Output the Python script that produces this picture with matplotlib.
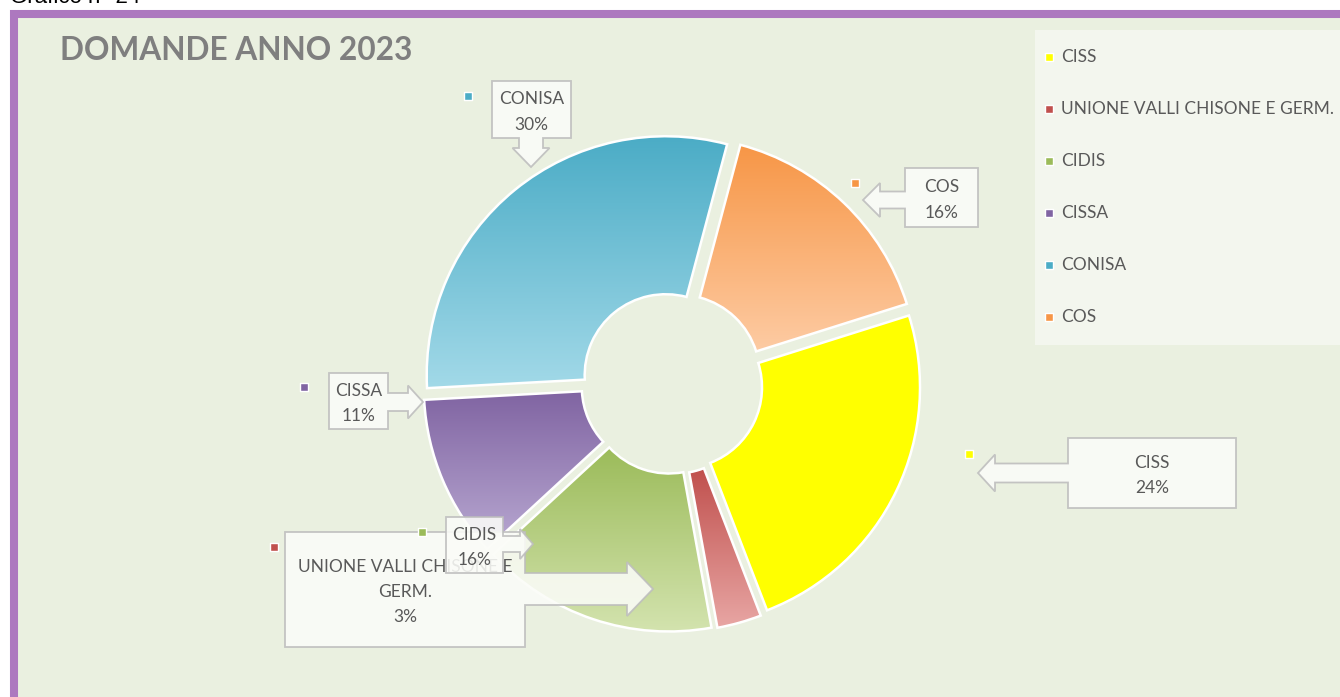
import textwrap

import numpy as np
import matplotlib
matplotlib.use("Agg")
import matplotlib.pyplot as plt
from matplotlib.patches import Polygon, Rectangle
from matplotlib.colors import LinearSegmentedColormap

# dati del grafico
categories = ["CISS", "UNIONE VALLI CHISONE E GERM.", "CIDIS", "CISSA", "CONISA", "COS"]
values = [24, 3, 16, 11, 30, 16]
title = "DOMANDE ANNO 2023"
caption = "Grafico n° 24"

# colori (alto -> basso del gradiente)
top_colors = ["#FFFF00", "#C0504D", "#9BBB59", "#8064A2", "#4BACC6", "#F79646"]
bottom_colors = ["#FFFF00", "#E8A6A4", "#D3E3AE", "#B9A9D2", "#A2D9E8", "#FDCBA3"]

W, H = 1340, 697
BG = "#EAF0E0"
TXT = "#595959"
FONT = ["Lato", "DejaVu Sans"]


def Y(y):
    return H - y


# posizione dei richiami: box (x0, y0, x1, y1), lato freccia, centro, mezza asta,
# mezza punta, inizio punta, punta, quadratino
callouts = {
    "CISS": ((1068, 438, 1236, 508), "left", 473, 9.5, 18.5, 995, 978, (969, 454)),
    "UNIONE VALLI CHISONE E GERM.": ((285, 532, 525, 647), "right", 589, 16, 27, 627, 653, (274, 547)),
    "CIDIS": ((446, 517, 503, 573), "right", 544, 8, 15, 520, 533, (422, 532)),
    "CISSA": ((329, 373, 388, 429), "right", 402, 9, 16.5, 408, 423, (304, 387)),
    "CONISA": ((492, 81, 571, 138), "down", 531, 12, 18.5, 148, 167, (468, 96)),
    "COS": ((905, 168, 978, 227), "left", 200, 8.5, 17, 880, 863, (855, 183)),
}


def callout_points(box, side, c, sw, hw, s, t):
    x0, y0, x1, y1 = box
    if side == "down":
        pts = [(x0, y0), (x1, y0), (x1, y1), (c + sw, y1), (c + sw, s), (c + hw, s),
               (c, t), (c - hw, s), (c - sw, s), (c - sw, y1), (x0, y1)]
    elif side == "right":
        pts = [(x0, y0), (x1, y0), (x1, c - sw), (s, c - sw), (s, c - hw), (t, c),
               (s, c + hw), (s, c + sw), (x1, c + sw), (x1, y1), (x0, y1)]
    else:
        pts = [(x0, y0), (x1, y0), (x1, y1), (x0, y1), (x0, c + sw), (s, c + sw),
               (s, c + hw), (t, c), (s, c - hw), (s, c - sw), (x0, c - sw)]
    return [(px, Y(py)) for px, py in pts]


fig = plt.figure(figsize=(W / 100, H / 100), dpi=100)
fig.patch.set_facecolor("white")
ax = fig.add_axes([0, 0, 1, 1])

# cornice viola
ax.add_patch(Rectangle((14, Y(1000)), 1400, Y(14) - Y(1000), facecolor=BG,
                       edgecolor="#AD78BF", linewidth=5.8, zorder=0))
ax.text(10, Y(3), caption, fontsize=16, family=["Liberation Sans", "DejaVu Sans"],
        color="black", va="baseline", ha="left")

# ciambella
wedges, _ = ax.pie(values, colors=top_colors, startangle=17.5, counterclock=False,
                   radius=239, center=(672, Y(383)), explode=[10] * len(values),
                   wedgeprops=dict(width=158, edgecolor="white", linewidth=1.8))
for w, c_top, c_bot in zip(wedges, top_colors, bottom_colors):
    x0, y0, x1, y1 = w.get_path().get_extents().extents
    cmap = LinearSegmentedColormap.from_list("g", [c_bot, c_top])
    grad = np.linspace(0, 1, 256).reshape(-1, 1)
    img = ax.imshow(grad, cmap=cmap, extent=[x0, x1, y0, y1], origin="lower",
                    aspect="auto", zorder=2, interpolation="bilinear")
    img.set_clip_path(w)
    w.set_facecolor("none")
    w.set_zorder(3)

ax.set_xlim(0, W)
ax.set_ylim(0, H)
ax.set_aspect("auto")
ax.axis("off")

# titolo
ax.text(60, Y(50), title, fontsize=22.8, fontweight="bold", color="#7F7F7F",
        family=FONT, ha="left", va="center")

# etichette a richiamo (ognuna sopra la precedente)
total = sum(values)
for i, (name, val, color) in enumerate(zip(categories, values, top_colors)):
    box, side, c, sw, hw, s, t, mk = callouts[name]
    z = 5 + 2 * i
    poly = Polygon(callout_points(box, side, c, sw, hw, s, t), closed=True,
                   facecolor="#FBFCF8", edgecolor="#BDBDBD", linewidth=1.3,
                   alpha=0.88, zorder=z)
    ax.add_patch(poly)
    label = textwrap.fill(name, 22) + f"\n{round(val / total * 100)}%"
    ax.text((box[0] + box[2]) / 2, Y((box[1] + box[3]) / 2 + 2.5), label,
            ha="center", va="center", fontsize=12.5, color=TXT, family=FONT,
            linespacing=1.72, zorder=z + 1)
    ax.scatter([mk[0]], [Y(mk[1])], marker="s", s=36, color=color,
               edgecolors="white", linewidths=1.0, zorder=z + 1)

# legenda
ax.add_patch(Rectangle((1035, Y(345)), 320, 315, facecolor="#F3F6EE",
                       edgecolor="none", zorder=4))
for i, (name, color) in enumerate(zip(categories, top_colors)):
    yy = Y(57 + 52 * i)
    ax.scatter([1049], [yy], marker="s", s=36, color=color,
               edgecolors="white", linewidths=1.0, zorder=6)
    ax.text(1061, yy, name, fontsize=12.5, color=TXT, family=FONT,
            ha="left", va="center", zorder=6)

fig.savefig("out.png", dpi=100, facecolor=fig.get_facecolor())
